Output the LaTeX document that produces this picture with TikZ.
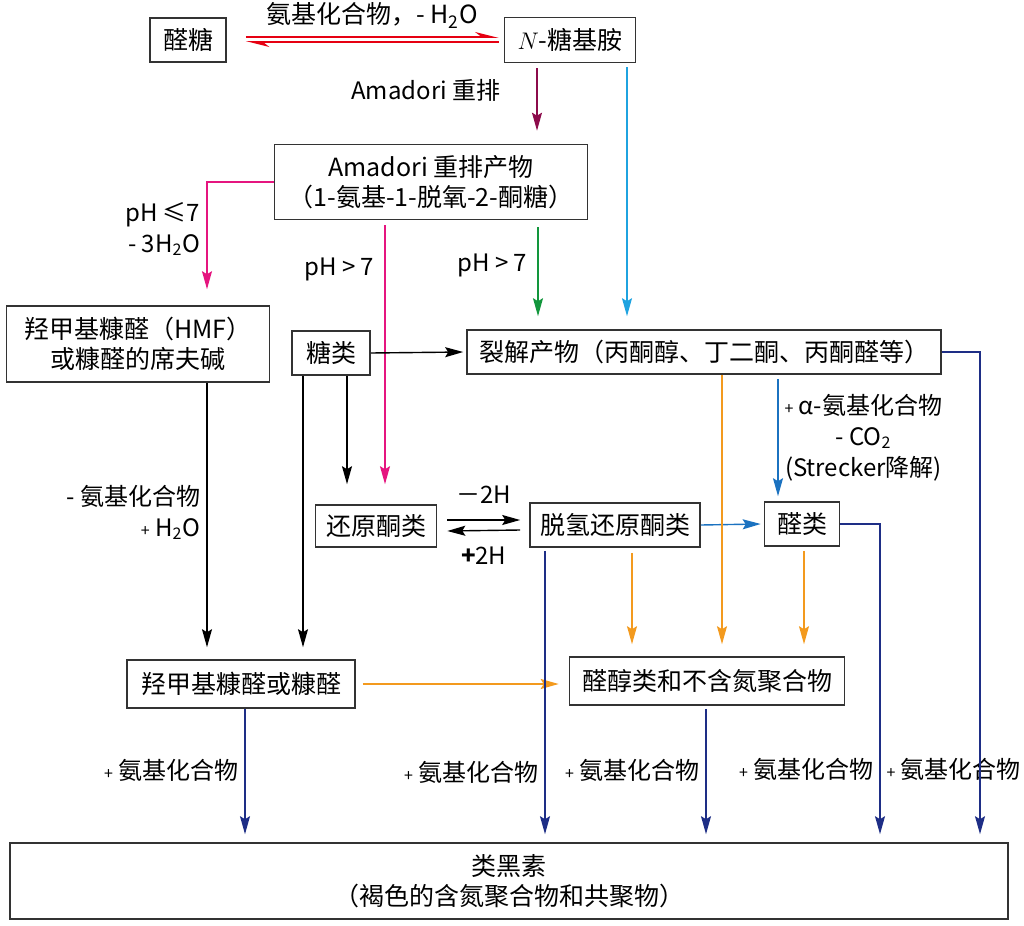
\documentclass[tikz,border=0pt]{standalone}
\usepackage{fontspec}
\setmainfont{Noto Sans CJK SC}
\usetikzlibrary{arrows.meta,calc}
\definecolor{eqred}{HTML}{E60012}
\definecolor{amadcol}{HTML}{8C0B4B}
\definecolor{phpink}{HTML}{E5157F}
\definecolor{skyblue}{HTML}{1FA3E0}
\definecolor{phgreen}{HTML}{12963C}
\definecolor{orng}{HTML}{F39A1E}
\definecolor{midblue}{HTML}{1B72C0}
\definecolor{navy}{HTML}{1E2E86}
\definecolor{boxcol}{HTML}{333333}

\begin{document}
\begin{tikzpicture}[x=0.5pt, y=-0.5pt,
  cpd/.style={draw=boxcol, line width=0.8pt, inner sep=0pt, align=center,
              font=\fontsize{12.5}{15}\selectfont},
  arr/.style={-{Stealth[length=9pt,width=5pt,inset=1.5pt]}, line width=0.7pt},
  lab/.style={font=\fontsize{12}{15.5}\selectfont, inner sep=3pt, text=black},
]
  \useasboundingbox (0,0) rectangle (1024,926);

  % compounds
  \node[cpd, minimum width=38pt, minimum height=22pt] (ald) at (188,40) {醛糖};
  \node[cpd, minimum width=65.5pt, minimum height=22.5pt] (gly) at (570,40) {$N$-糖基胺};
  \node[cpd, minimum width=156.5pt, minimum height=37.5pt] (amp) at (431,182)
    {Amadori 重排产物\\（1-氨基-1-脱氧-2-酮糖）};
  \node[cpd, minimum width=131.5pt, minimum height=38pt] (hmf) at (138,344)
    {羟甲基糠醛（HMF）\\或糠醛的席夫碱};
  \node[cpd, minimum width=39pt, minimum height=22pt] (sug) at (331,353) {糖类};
  \node[cpd, minimum width=237pt, minimum height=22pt] (frag) at (704,352)
    {裂解产物（丙酮醇、丁二酮、丙酮醛等）};
  \node[cpd, minimum width=60.5pt, minimum height=21pt] (red) at (376,526) {还原酮类};
  \node[cpd, minimum width=85pt, minimum height=22pt] (dhr) at (615,525) {脱氢还原酮类};
  \node[cpd, minimum width=37.5pt, minimum height=22pt] (ald2) at (802,524) {醛类};
  \node[cpd, minimum width=114pt, minimum height=24pt] (furf) at (241,684) {羟甲基糠醛或糠醛};
  \node[cpd, minimum width=137.5pt, minimum height=24pt] (aldol) at (707,681) {醛醇类和不含氮聚合物};
  \node[cpd, minimum width=499pt, minimum height=38pt] (mel) at (509,881)
    {类黑素\\（褐色的含氮聚合物和共聚物）};

  % sugar + amine equilibrium
  \draw[eqred, line width=0.9pt, -{Stealth[harpoon,length=10pt,width=5pt]}]
    ($(ald.east)+(19,-3)$) -- node[lab, font=\fontsize{12.5}{15}\selectfont, above=1pt]
    {氨基化合物，- H\textsubscript{2}O} ($(gly.west)+(-5,-3)$);
  \draw[eqred, line width=0.9pt, -{Stealth[harpoon,length=10pt,width=5pt]}]
    ($(gly.west)+(-5,2)$) -- ($(ald.east)+(19,2)$);

  % Amadori
  \draw[arr, amadcol] ($(gly.south)+(-33,5)$) --
    node[lab, pos=0.36, left=15pt]{Amadori 重排}
    ($(amp.north)+(106,-13)$);
  \draw[arr, skyblue] ($(gly.south)+(57,4)$) -- ($(frag.north)+(-77,-13)$);

  % pH branches
  \draw[arr, phpink] (amp.west) -| node[lab, pos=0.72, left, align=right]
    {pH ≤7\\- 3H\textsubscript{2}O} ($(hmf.north)+(69,-16)$);
  \draw[arr, phpink] ($(amp.south)+(-46,5)$) --
    node[lab, pos=0.17, left=2pt]{pH > 7} ($(red.north)+(9,-20)$);
  \draw[arr, phgreen] ($(amp.south)+(107,7)$) --
    node[lab, pos=0.43, left=2pt]{pH > 7} ($(frag.north)+(-166,-13)$);

  % sugars
  \draw[arr] (sug.east) -- ($(frag.west)+(-3,0)$);
  \draw[arr] ($(sug.south)+(-28,0)$) -- ($(furf.north)+(62,-12)$);
  \draw[arr] ($(sug.south)+(16,0)$) -- ($(red.north)+(-29,-20)$);
  \draw[arr] ($(hmf.south)+(69,0)$) -- node[lab, pos=0.49, left, align=right]
    {- 氨基化合物\\{\footnotesize+} H\textsubscript{2}O} ($(furf.north)+(-34,-12)$);

  % reductones
  \draw[arr] ($(red.east)+(10,-6)$) -- node[lab, above=5pt]{－2H} ($(dhr.west)+(-9,-5)$);
  \draw[arr] ($(dhr.west)+(-9,5)$) -- node[lab, below=5pt]{\textbf{+}2H} ($(red.east)+(10,5)$);
  \draw[arr, midblue] (dhr.east) -- ($(ald2.west)+(-3,0)$);

  % fragmentation products
  \draw[arr, midblue] ($(frag.south)+(74,4)$) -- node[lab, pos=0.5, right, align=center]
    {{\footnotesize+} α-氨基化合物\\- CO\textsubscript{2}\\(Strecker降解)} ($(ald2.north)+(-24,-5)$);
  \draw[arr, orng] ($(frag.south)+(18,0)$) -- ($(aldol.north)+(15,-12)$);
  \draw[arr, orng] ($(dhr.south)+(17,5)$) -- ($(aldol.north)+(-75,-12)$);
  \draw[arr, orng] ($(ald2.south)+(2,4)$) -- ($(aldol.north)+(97,-12)$);
  \draw[arr, orng] ($(furf.east)+(7,0)$) -- ($(furf.east -| aldol.west)+(-10,0)$);

  % to melanoidins
  \draw[arr, navy] ($(furf.south)+(4,0)$) -- node[lab, pos=0.49, left]
    {{\footnotesize+} 氨基化合物} ($(mel.north)+(-264,-8)$);
  \draw[arr, navy] ($(dhr.south)+(-70,3)$) -- node[lab, pos=0.78, left]
    {{\footnotesize+} 氨基化合物} ($(mel.north)+(36,-8)$);
  \draw[arr, navy] ($(aldol.south)+(-1,3)$) -- node[lab, pos=0.49, left]
    {{\footnotesize+} 氨基化合物} ($(mel.north)+(197,-8)$);
  \draw[arr, navy] (ald2.east) -| node[lab, pos=0.896, left]{{\footnotesize+} 氨基化合物}
    node[lab, pos=0.896, right]{{\footnotesize+} 氨基化合物} ($(mel.north)+(371,-8)$);
  \draw[arr, navy] (frag.east) -| ($(mel.north)+(471,-8)$);
\end{tikzpicture}
\end{document}
